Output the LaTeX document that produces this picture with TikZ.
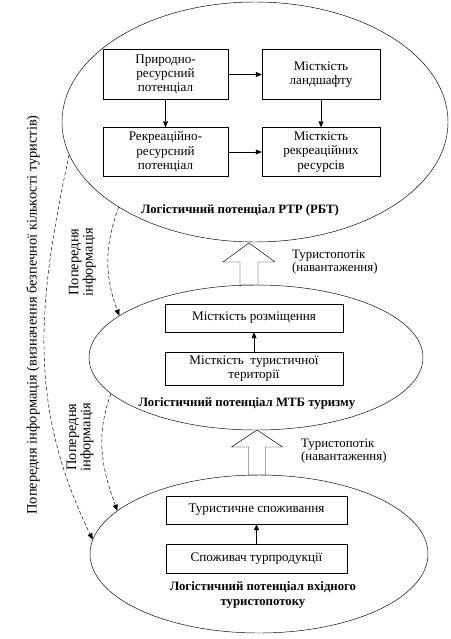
\documentclass[tikz,border=0pt]{standalone}
\usepackage{fontspec}
\setmainfont{Liberation Serif}
\usetikzlibrary{positioning}
\usetikzlibrary{shapes.geometric,arrows.meta}

\begin{document}
\begin{tikzpicture}[
    >={Triangle[length=1.8mm, width=1.5mm]},
    oval/.style = {shape = ellipse, draw, thin, inner sep = 0},
    box/.style = {shape = rectangle, draw, thin, align = center, inner sep = 0.05cm, font = \fontsize{11.2}{12.2}\selectfont},
    lbl/.style = {align = center, font = \fontsize{10.9}{12.5}\selectfont\bfseries},
    flow/.style = {draw, thin, line join = miter},
    info/.style = {->, thin, densely dashed},
    note/.style = {align = left, font = \fontsize{11}{11}\selectfont},
    side/.style = {align = center, rotate = 90, font = \fontsize{12.3}{10.8}\selectfont},
    ]
    \useasboundingbox (0,0) rectangle (13.5,-19.17);

    % three potentials
    \node[oval, minimum width = 11.58cm, minimum height = 7.2cm] (T) at (7.65,-3.66) {};
    \node[oval, minimum width = 10.02cm, minimum height = 4.35cm] (M) at (7.68,-10.725) {};
    \node[oval, minimum width = 10.14cm, minimum height = 4.74cm] (V) at (7.77,-16.62) {};

    % RTP (RBT)
    \node[box, minimum width = 3.75cm, minimum height = 1.5cm] (A) at (4.965,-2.235) {Природно-\\ресурсний\\потенціал};
    \node[box, minimum width = 3.54cm, minimum height = 1.5cm] (B) at (9.63,-2.235) {Місткість\\ландшафту};
    \node[box, minimum width = 3.75cm, minimum height = 1.47cm] (C) at (4.965,-4.56) {Рекреаційно-\\ресурсний\\потенціал};
    \node[box, minimum width = 3.54cm, minimum height = 1.47cm] (D) at (9.63,-4.56) {Місткість\\рекреаційних\\ресурсів};
    \node[lbl] (TL) at (7.2,-6.3) {Логістичний потенціал РТР (РБТ)};

    % MTB
    \node[box, minimum width = 5.34cm, minimum height = 0.84cm] (E) at (7.62,-9.54) {Місткість розміщення};
    \node[box, minimum width = 5.34cm, minimum height = 1.0cm] (F) at (7.62,-11.055) {Місткість~ туристичної\\території};
    \node[lbl] (ML) at (7.41,-12.09) {Логістичний потенціал МТБ туризму};

    % incoming flow
    \node[box, minimum width = 5.43cm, minimum height = 0.84cm] (G) at (7.695,-15.3) {Туристичне споживання};
    \node[box, minimum width = 5.43cm, minimum height = 0.87cm] (H) at (7.695,-16.755) {Споживач турпродукції};
    \node[lbl] (VL) at (7.89,-17.85) {Логістичний потенціал вхідного\\туристопотоку};

    \path[->] (A) edge (B);
    \path[->] (A) edge (C);
    \path[->] (B) edge (D);
    \path[->] (C) edge (D);
    \path[->] (F) edge (E);
    \path[->] (H) edge (G);

    % tourist flows
    \coordinate (P1) at (7.47,-7.29);
    \coordinate (P2) at (7.71,-12.9);
    \draw[flow] (P1) -- ++(-0.78,-0.57) -- ++(0.51,0) -- ++(0,-0.69) -- ++(0.54,0) -- ++(0,0.69) -- ++(0.51,0) -- cycle;
    \draw[flow] (P2) -- ++(-0.765,-0.51) -- ++(0.51,0) -- ++(0,-0.84) -- ++(0.51,0) -- ++(0,0.84) -- ++(0.51,0) -- cycle;
    \node[note, anchor = west] (N1) at (8.64,-7.86) {Туристопотік\\(навантаження)};
    \node[note, anchor = west] (N2) at (8.91,-13.53) {Туристопотік\\(навантаження)};

    % preliminary information
    \draw[info] (T.212.5) to[out = 250, in = 110] (M.163);
    \draw[info] (M.194) to[out = 250, in = 110] (V.163);
    \draw[info] (T.190) to[out = 258, in = 116] (V.175);
    \node[side] (I1) at (2.47,-7.86) {Попередня\\інформація};
    \node[side] (I2) at (2.4,-13.11) {Попередня\\інформація};
    \node[side] (I3) at (0.99,-9.45) {Попередня інформація (визначення безпечної кількості туристів)};
\end{tikzpicture}
\end{document}
